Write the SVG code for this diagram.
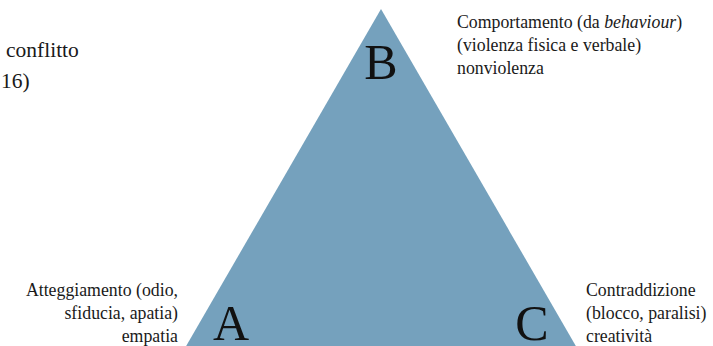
<svg xmlns="http://www.w3.org/2000/svg" width="713" height="346" viewBox="0 0 713 346">
<style>
.t{font-family:"Liberation Serif","DejaVu Serif",serif;font-size:17.8px;fill:#1a1a1a}
.big{font-family:"Liberation Serif","DejaVu Serif",serif;font-size:50px;fill:#111}
.title{font-family:"Liberation Serif","DejaVu Serif",serif;font-size:21.5px;fill:#1a1a1a}
</style>
<rect width="713" height="346" fill="#fff"/>
<g id="title">
<text class="title" x="6" y="57">conflitto</text>
<text class="title" x="1" y="88">16)</text>
</g>
<g id="triangle">
<polygon points="381,9 185,348 577,348" fill="#75a1bd"/>
</g>
<g id="node-B">
<text class="big" x="381" y="79" text-anchor="middle">B</text>
<text class="t" x="457" y="28">Comportamento (da <tspan font-style="italic">behaviour</tspan>)</text>
<text class="t" x="457" y="51">(violenza fisica e verbale)</text>
<text class="t" x="457" y="74">nonviolenza</text>
</g>
<g id="node-A">
<text class="big" x="231" y="340" text-anchor="middle">A</text>
<text class="t" x="178" y="296" text-anchor="end">Atteggiamento (odio,</text>
<text class="t" x="178" y="319" text-anchor="end">sfiducia, apatia)</text>
<text class="t" x="178" y="342" text-anchor="end">empatia</text>
</g>
<g id="node-C">
<text class="big" x="532" y="340" text-anchor="middle">C</text>
<text class="t" x="586" y="296">Contraddizione</text>
<text class="t" x="586" y="319">(blocco, paralisi)</text>
<text class="t" x="586" y="342">creatività</text>
</g>
<g id="connectors"></g>
</svg>
